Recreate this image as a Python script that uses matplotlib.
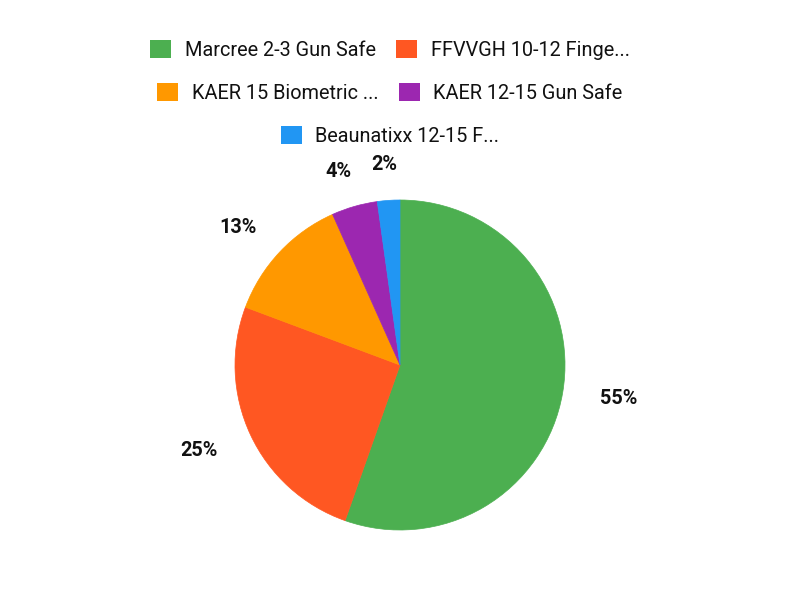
"""
Pie chart of gun safe shares, with a centred, row-by-row legend on top.
"""

import numpy as np
import matplotlib.pyplot as plt
from matplotlib.patches import Patch

plt.rcParams["font.family"] = ["Roboto", "DejaVu Sans"]

labels = [
    "Marcree 2-3 Gun Safe",
    "FFVVGH 10-12 Finge...",
    "KAER 15 Biometric ...",
    "KAER 12-15 Gun Safe",
    "Beaunatixx 12-15 F...",
]
shares = [55.4, 25.3, 12.6, 4.5, 2.2]
colours = ["#4CAF50", "#FF5722", "#FF9800", "#9C27B0", "#2196F3"]

# legend rows: indices of the items in each row, and row centre (fig y)
legend_rows = [[0, 1], [2, 3], [4]]
row_y = [50, 93, 136]

W, H = 800, 600
FONT = 14.3
TEXT_COLOUR = "#111111"
fig = plt.figure(figsize=(W / 100, H / 100), dpi=100)

cx, cy, r = 400, 365, 165
ax = fig.add_axes([(cx - r) / W, (H - cy - r) / H, 2 * r / W, 2 * r / H])
wedges, _, pct_texts = ax.pie(
    shares,
    colors=colours,
    startangle=90,
    counterclock=False,
    autopct=lambda p: f"{p:.0f}%",
    pctdistance=1.25,
    radius=1,
    textprops={"fontsize": FONT, "fontweight": "bold", "color": TEXT_COLOUR},
)
# hide the anti-aliasing seams between slices
for wedge in wedges:
    wedge.set_edgecolor(wedge.get_facecolor())
    wedge.set_linewidth(0.5)

ax.set_xlim(-1, 1)
ax.set_ylim(-1, 1)
ax.set_aspect("equal")
ax.axis("off")

# labels sit on a slightly flattened ring outside the pie
label_rx, label_ry = 222 / r, 201 / r
for wedge, txt in zip(wedges, pct_texts):
    ang = np.deg2rad((wedge.theta1 + wedge.theta2) / 2)
    txt.set_position((np.cos(ang) * label_rx, np.sin(ang) * label_ry))

for row, y in zip(legend_rows, row_y):
    handles = [Patch(facecolor=colours[i], edgecolor="none") for i in row]
    leg = fig.legend(
        handles,
        [labels[i] for i in row],
        loc="center",
        bbox_to_anchor=(390 / W, 1 - y / H),
        ncol=len(row),
        frameon=False,
        fontsize=FONT,
        handlelength=1.05,
        handleheight=1.05,
        handletextpad=0.68,
        columnspacing=1.05,
        borderpad=0,
    )
    for t in leg.get_texts():
        t.set_color(TEXT_COLOUR)

fig.savefig("out.png", dpi=100, facecolor="white")
